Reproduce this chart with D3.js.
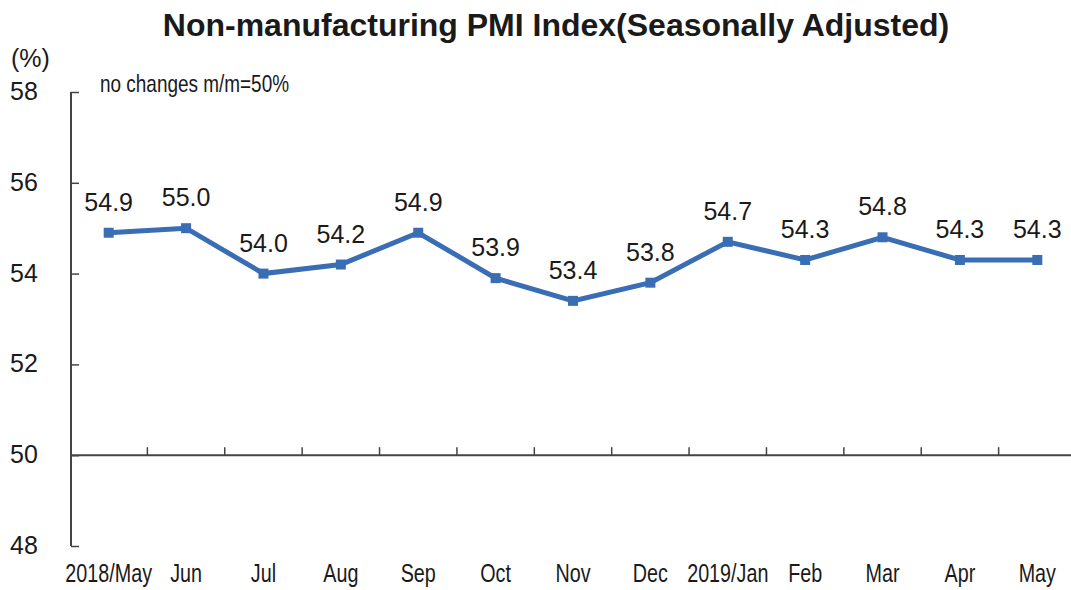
<!DOCTYPE html>
<html>
<head>
<meta charset="utf-8">
<script src="https://cdn.jsdelivr.net/npm/d3@7"></script>
<style>
  html, body { margin: 0; padding: 0; background: #fff; }
  svg { display: block; }
  text { fill: #1a1a1a; }
</style>
</head>
<body>
<svg id="chart" width="1071" height="590"></svg>
<script>
// Non-manufacturing PMI, seasonally adjusted, May 2018 – May 2019
const months = ["2018/May", "Jun", "Jul", "Aug", "Sep", "Oct", "Nov", "Dec",
                "2019/Jan", "Feb", "Mar", "Apr", "May"];
const pmiValues = [54.9, 55.0, 54.0, 54.2, 54.9, 53.9, 53.4, 53.8, 54.7, 54.3, 54.8, 54.3, 54.3];
const yTicks = [48, 50, 52, 54, 56, 58];
const baseline = 50;

const svg = d3.select("#chart");
const W = 1071, H = 590;

const x = d3.scaleBand().domain(months).range([70, 1076]).paddingInner(0).paddingOuter(0);
const y = d3.scaleLinear().domain([48, 58]).range([546, 92]);

const regular = "'Liberation Sans', Arial, sans-serif";
const condense = 0.79;   // horizontal squeeze for narrow labels

// Title
svg.append("text")
  .attr("x", 556).attr("y", 36)
  .attr("text-anchor", "middle")
  .style("font-family", regular)
  .style("font-weight", "bold")
  .style("font-size", "32px")
  .text("Non-manufacturing PMI Index(Seasonally Adjusted)");

// Unit label
svg.append("text")
  .attr("x", 11).attr("y", 67)
  .style("font-family", regular)
  .style("font-size", "25px")
  .text("(%)");

// Note
svg.append("text")
  .attr("transform", `translate(100,92) scale(${condense},1)`)
  .style("font-family", regular)
  .style("font-size", "24px")
  .text("no changes m/m=50%");

// Y axis: line with inward ticks
const yAxis = d3.axisRight(y).tickValues(yTicks).tickSize(8).tickFormat("");
const yG = svg.append("g").attr("transform", "translate(71,0)").call(yAxis);
yG.select(".domain").attr("stroke", "#444").attr("stroke-width", 2).attr("d", `M0,${y(58)}V${y(48)}`);
yG.selectAll(".tick line").attr("stroke", "#444").attr("stroke-width", 1.5);

// Y tick labels
svg.append("g").selectAll("text")
  .data(yTicks)
  .join("text")
  .attr("x", 10)
  .attr("y", d => y(d) + 8)
  .style("font-family", regular)
  .style("font-size", "25px")
  .text(d => d);

// Horizontal axis at the 50 line, with ticks between months
const boundaries = months.slice(1).map(m => x(m));
const xG = svg.append("g");
xG.append("line")
  .attr("x1", 71).attr("x2", W)
  .attr("y1", y(baseline)).attr("y2", y(baseline))
  .attr("stroke", "#444").attr("stroke-width", 2);
xG.selectAll("line.tk")
  .data(boundaries)
  .join("line")
  .attr("class", "tk")
  .attr("x1", d => d).attr("x2", d => d)
  .attr("y1", y(baseline)).attr("y2", y(baseline) - 8)
  .attr("stroke", "#444").attr("stroke-width", 1.5);

// Month labels along the bottom
svg.append("g").selectAll("text")
  .data(months)
  .join("text")
  .attr("transform", d => `translate(${x(d) + x.bandwidth() / 2},582) scale(${condense},1)`)
  .attr("text-anchor", "middle")
  .style("font-family", regular)
  .style("font-size", "25px")
  .text(d => d);

// PMI line
const cx = (d, i) => x(months[i]) + x.bandwidth() / 2;
const line = d3.line().x(cx).y(d => y(d));
svg.append("path")
  .datum(pmiValues)
  .attr("d", line)
  .attr("fill", "none")
  .attr("stroke", "#3a6eb4")
  .attr("stroke-width", 5)
  .attr("stroke-linejoin", "miter");

// Square markers
svg.append("g").selectAll("rect")
  .data(pmiValues)
  .join("rect")
  .attr("x", (d, i) => cx(d, i) - 5)
  .attr("y", d => y(d) - 5)
  .attr("width", 10).attr("height", 10)
  .attr("fill", "#3a6eb4");

// Value labels
svg.append("g").selectAll("text")
  .data(pmiValues)
  .join("text")
  .attr("x", (d, i) => cx(d, i))
  .attr("y", d => y(d) - 22)
  .attr("text-anchor", "middle")
  .style("font-family", regular)
  .style("font-size", "25px")
  .text(d => d.toFixed(1));
</script>
</body>
</html>
